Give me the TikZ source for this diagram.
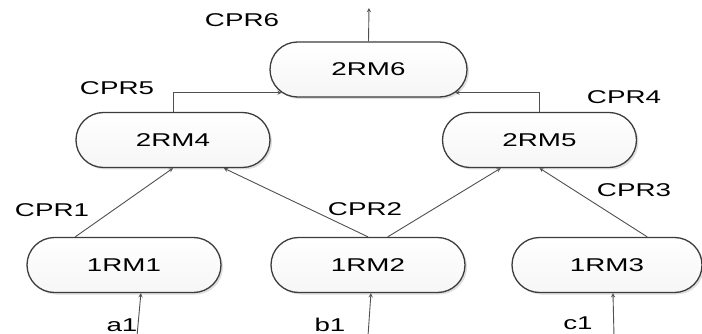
\documentclass[tikz,border=0pt]{standalone}
\usepackage{fontspec}
\setmainfont{Liberation Sans}[FakeStretch=1.5]
\usetikzlibrary{shapes.misc, shadows}
\definecolor{EdgeGray}{RGB}{80, 80, 80}
\definecolor{BorderGray}{RGB}{60, 60, 60}
\definecolor{ShadeGray}{RGB}{246, 246, 246}

\begin{document}
\begin{tikzpicture}[
    x=1pt, y=-1pt,
    font=\fontsize{18.5}{22}\selectfont,
    rmstyle/.style={rounded rectangle, draw=BorderGray, line width=1.3pt, top color=white, bottom color=ShadeGray, minimum width=194pt, minimum height=55pt, inner sep=0pt, drop shadow={shadow xshift=2pt, shadow yshift=-2pt, opacity=0.25, fill=gray}},
    arrowstyle/.style={->, >=stealth, line width=0.9pt, EdgeGray},
    lblstyle/.style={inner sep=0pt}
]
    \useasboundingbox (0,0) rectangle (702,334);

    % Level 2: top node
    \node (rm6) [rmstyle, minimum width=197pt] at (368.5,69.5) {2RM6};

    % Level 2: middle nodes
    \node (rm4) [rmstyle] at (173,140) {2RM4};
    \node (rm5) [rmstyle] at (539.5,140) {2RM5};

    % Level 1: bottom nodes
    \node (rm1) [rmstyle] at (124,265) {1RM1};
    \node (rm2) [rmstyle] at (368,265) {1RM2};
    \node (rm3) [rmstyle, minimum width=190pt] at (607,265) {1RM3};

    % Free ends of the connectors
    \coordinate (out6) at (369,8);
    \coordinate (in_a) at (137,336);
    \coordinate (in_b) at (368,336);
    \coordinate (in_c) at (614,336);

    % Labels
    \node (cpr6) [lblstyle] at (242,20) {CPR6};
    \node (cpr5) [lblstyle] at (117,88) {CPR5};
    \node (cpr4) [lblstyle] at (624,97) {CPR4};
    \node (cpr1) [lblstyle] at (52,210) {CPR1};
    \node (cpr2) [lblstyle] at (365,209) {CPR2};
    \node (cpr3) [lblstyle] at (634,190) {CPR3};
    \node (a1) [lblstyle] at (122,325) {a1};
    \node (b1) [lblstyle] at (330,325) {b1};
    \node (c1) [lblstyle] at (578,323) {c1};

    % Connections
    \draw [arrowstyle] (rm6.north) -- (out6);
    \draw [arrowstyle] (rm4.north) |- (rm6.195);
    \draw [arrowstyle] (rm5.north) |- (rm6.345);

    \draw [arrowstyle] (rm1.150) -- (rm4.south);
    \draw [arrowstyle] (rm2.north) -- (rm4.-29);
    \draw [arrowstyle] (rm2.55) -- (rm5.216);
    \draw [arrowstyle] (rm3.35) -- (rm5.south);

    \draw [arrowstyle] (in_a) -- (rm1.-59);
    \draw [arrowstyle] (in_b) -- (rm2.-84);
    \draw [arrowstyle] (in_c) -- (rm3.-78);

\end{tikzpicture}
\end{document}
